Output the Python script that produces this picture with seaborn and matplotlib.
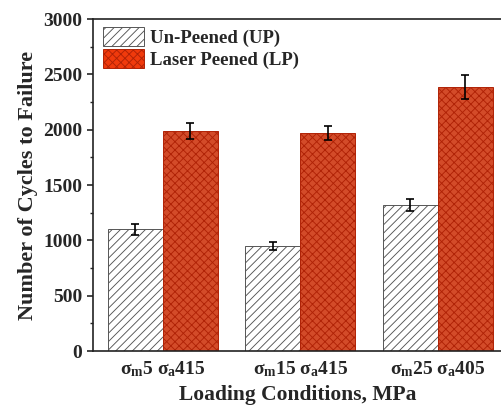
import matplotlib
matplotlib.use("Agg")
import matplotlib.pyplot as plt
import seaborn as sns
import pandas as pd
from matplotlib.patches import Patch
from matplotlib.ticker import MultipleLocator

# data
conditions = [r"$\sigma_m$5 $\sigma_a$415", r"$\sigma_m$15 $\sigma_a$415", r"$\sigma_m$25 $\sigma_a$405"]
series = ["Un-Peened (UP)", "Laser Peened (LP)"]
up_cycles = [1100, 950, 1320]
up_err = [48, 38, 55]
lp_cycles = [1985, 1970, 2385]
lp_err = [72, 65, 112]

df = pd.DataFrame({
    "condition": conditions * 2,
    "series": [series[0]] * 3 + [series[1]] * 3,
    "cycles": up_cycles + lp_cycles,
})

sns.set_style("ticks")
plt.rcParams["font.family"] = ["Liberation Serif", "DejaVu Serif"]
plt.rcParams["font.weight"] = "bold"
plt.rcParams["mathtext.fontset"] = "custom"
plt.rcParams["mathtext.rm"] = "Liberation Serif:bold"
plt.rcParams["mathtext.it"] = "Liberation Serif:bold"
plt.rcParams["mathtext.bf"] = "Liberation Serif:bold"
plt.rcParams["hatch.linewidth"] = 0.65

fig = plt.figure(figsize=(5.02, 4.08), dpi=100)
ax = fig.add_axes([0.185, 0.1397, 0.815, 0.8137])

red = "#f03a0c"
sns.barplot(data=df, x="condition", y="cycles", hue="series", order=conditions,
            hue_order=series, palette=["white", red], errorbar=None,
            width=0.8, ax=ax, legend=False)

styles = {series[0]: ("white", "////", "#555555"), series[1]: (red, "xxxx", "#b02206")}
errs = {series[0]: up_err, series[1]: lp_err}
vals = {series[0]: up_cycles, series[1]: lp_cycles}
for cont, name in zip(ax.containers, series):
    fc, hatch, ec = styles[name]
    xs = []
    for bar in cont:
        bar.set_hatch(hatch)
        bar.set_edgecolor(ec)
        bar.set_linewidth(0.7)
        xs.append(bar.get_x() + bar.get_width() / 2)
    ax.errorbar(xs, vals[name], yerr=errs[name], fmt="none", ecolor="black",
                elinewidth=1.2, capsize=2.8, capthick=1.2, zorder=5)

ax.set_xlim(-0.509, 2.466)
ax.set_ylim(0, 3000)
ax.yaxis.set_major_locator(MultipleLocator(500))
ax.yaxis.set_minor_locator(MultipleLocator(250))
ax.tick_params(axis="both", direction="out", labelsize=14, width=1.2, length=4)
ax.tick_params(axis="y", which="minor", direction="out", width=1, length=2.5)
ax.tick_params(axis="x", length=0, pad=6)
for lab in ax.get_xticklabels() + ax.get_yticklabels():
    lab.set_fontweight("bold")

for side in ["left", "top", "bottom"]:
    ax.spines[side].set_linewidth(1.2)
    ax.spines[side].set_color("#222222")
ax.spines["right"].set_visible(False)

ax.set_xlabel("Loading Conditions, MPa", fontsize=15.5, fontweight="bold", labelpad=4)
ax.set_ylabel("Number of Cycles to Failure", fontsize=16, fontweight="bold", labelpad=4)

handles = [Patch(facecolor=styles[s][0], hatch=styles[s][1], edgecolor=styles[s][2],
                 linewidth=0.7, label=s) for s in series]
ax.legend(handles=handles, loc="upper left", bbox_to_anchor=(0.0244, 0.976),
          frameon=False, handlelength=2.2, handleheight=1.2, handletextpad=0.3,
          labelspacing=0.12, borderpad=0, borderaxespad=0,
          prop={"weight": "bold", "size": 13.5})

fig.savefig("out.png", dpi=100)
